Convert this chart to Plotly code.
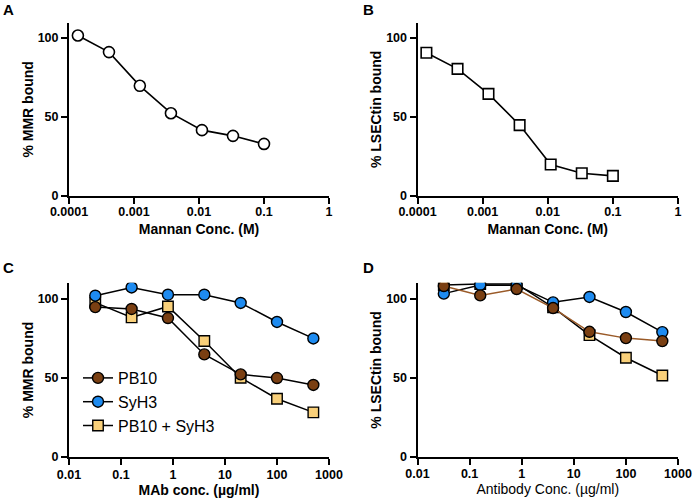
import plotly.graph_objects as go

# ---------------- data ----------------
mannan_conc = [0.000137, 0.000412, 0.00123, 0.0037, 0.0111, 0.0333, 0.1]
mmr_bound_A = [101.4, 90.9, 69.6, 52.3, 41.6, 38.0, 32.9]
lsectin_bound_B = [90.5, 80.3, 64.5, 44.8, 19.9, 14.4, 12.7]

ab_conc = [0.032, 0.16, 0.8, 4, 20, 100, 500]
C_pb10 = [94.7, 93.5, 87.8, 64.8, 52.2, 49.9, 45.5]
C_syh3 = [101.9, 107.1, 102.5, 102.5, 97.3, 85.3, 74.9]
C_combo = [97.5, 88.2, 95.1, 73.3, 50.1, 36.8, 28.2]

D_pb10 = [108.0, 102.1, 106.1, 94.1, 79.1, 75.1, 73.2]
D_syh3 = [103.2, 108.7, 108.5, 97.7, 101.1, 91.6, 78.9]
D_combo = [108.7, 109.3, 109.3, 94.5, 77.0, 62.7, 51.5]

mannan_ticks = [0.0001, 0.001, 0.01, 0.1, 1]
mannan_ticktext = ["0.0001", "0.001", "0.01", "0.1", "1"]
ab_ticks = [0.01, 0.1, 1, 10, 100, 1000]
ab_ticktext = ["0.01", "0.1", "1", "10", "100", "1000"]
y_ticks = [0, 50, 100]

BROWN = "#7a3f12"
BROWN_LINE = "#9a5a28"
BLUE = "#1e8bf0"
YELLOW = "#f9d07a"
FONT = "Liberation Sans"

W, H = 693, 501

fig = go.Figure()

# ---- panel A ----
fig.add_trace(go.Scatter(x=mannan_conc, y=mmr_bound_A, mode="lines+markers",
                         xaxis="x", yaxis="y", showlegend=False,
                         line=dict(color="black", width=1.6),
                         marker=dict(symbol="circle", size=11, color="white",
                                     line=dict(color="black", width=1.6))))
# ---- panel B ----
fig.add_trace(go.Scatter(x=mannan_conc, y=lsectin_bound_B, mode="lines+markers",
                         xaxis="x2", yaxis="y2", showlegend=False,
                         line=dict(color="black", width=1.6),
                         marker=dict(symbol="square", size=10.5, color="white",
                                     line=dict(color="black", width=1.6))))
# ---- panel C ----
fig.add_trace(go.Scatter(x=ab_conc, y=C_combo, mode="lines+markers", name="PB10 + SyH3",
                         xaxis="x3", yaxis="y3", legendrank=3,
                         line=dict(color="black", width=1.5),
                         marker=dict(symbol="square", size=10.5, color=YELLOW,
                                     line=dict(color="black", width=1.4))))
fig.add_trace(go.Scatter(x=ab_conc, y=C_pb10, mode="lines+markers", name="PB10",
                         xaxis="x3", yaxis="y3", legendrank=1,
                         line=dict(color="black", width=1.5),
                         marker=dict(symbol="circle", size=11, color=BROWN,
                                     line=dict(color="black", width=1.4))))
fig.add_trace(go.Scatter(x=ab_conc, y=C_syh3, mode="lines+markers", name="SyH3",
                         xaxis="x3", yaxis="y3", legendrank=2,
                         line=dict(color="black", width=1.5),
                         marker=dict(symbol="circle", size=11, color=BLUE,
                                     line=dict(color="black", width=1.4))))
# ---- panel D ----
fig.add_trace(go.Scatter(x=ab_conc, y=D_combo, mode="lines+markers", showlegend=False,
                         xaxis="x4", yaxis="y4",
                         line=dict(color="black", width=1.5),
                         marker=dict(symbol="square", size=10.5, color=YELLOW,
                                     line=dict(color="black", width=1.4))))
fig.add_trace(go.Scatter(x=ab_conc, y=D_syh3, mode="lines+markers", showlegend=False,
                         xaxis="x4", yaxis="y4",
                         line=dict(color="black", width=1.5),
                         marker=dict(symbol="circle", size=11, color=BLUE,
                                     line=dict(color="black", width=1.4))))
fig.add_trace(go.Scatter(x=ab_conc, y=D_pb10, mode="lines+markers", showlegend=False,
                         xaxis="x4", yaxis="y4",
                         line=dict(color=BROWN_LINE, width=1.5),
                         marker=dict(symbol="circle", size=11, color=BROWN,
                                     line=dict(color="black", width=1.4))))


def xax(domain, rng, tv, tt, title, anchor, bold=True, lab_off=0, tstand=4):
    return dict(domain=domain, type="log", range=rng, anchor=anchor, automargin=False,
                tickvals=tv, ticktext=tt, ticks="outside", ticklen=6, tickwidth=2,
                ticklabelstandoff=lab_off,
                showline=True, linewidth=2, linecolor="black", showgrid=False,
                zeroline=False, tickcolor="black",
                tickfont=dict(family=FONT, size=12.5, color="black", weight="bold"),
                title=dict(text=title, standoff=tstand,
                           font=dict(family=FONT, size=14, color="black",
                                     weight="bold" if bold else "normal")))


def yax(domain, rng, title, anchor):
    return dict(domain=domain, range=rng, anchor=anchor, automargin=False,
                tickvals=y_ticks, ticks="outside", ticklen=6, tickwidth=2,
                showline=True, linewidth=2, linecolor="black", showgrid=False,
                zeroline=False, tickcolor="black",
                tickfont=dict(family=FONT, size=12.5, color="black", weight="bold"),
                title=dict(text=title, standoff=1,
                           font=dict(family=FONT, size=14, color="black", weight="bold")))


top_bottom = (H - 196) / H
top_dom = [top_bottom, top_bottom + 109.5 * 1.583 / H]
bot_bottom = (H - 457) / H
bot_dom = [bot_bottom, bot_bottom + 110 * 1.583 / H]
left_dom = [69 / W, 329 / W]
right_dom = [417.5 / W, 678 / W]

fig.update_layout(
    width=W, height=H,
    margin=dict(l=0, r=0, t=0, b=0, autoexpand=False),
    paper_bgcolor="white", plot_bgcolor="white",
    xaxis=xax(left_dom, [-4, 0], mannan_ticks, mannan_ticktext, "Mannan Conc. (M)", "y",
              lab_off=-3, tstand=6),
    yaxis=yax(top_dom, [0, 109.5], "% MMR bound", "x"),
    xaxis2=xax(right_dom, [-4, 0], mannan_ticks, mannan_ticktext, "Mannan Conc. (M)", "y2",
               lab_off=-3, tstand=6),
    yaxis2=yax(top_dom, [0, 109.5], "% LSECtin bound", "x2"),
    xaxis3=xax(left_dom, [-2, 3], ab_ticks, ab_ticktext, "MAb conc. (µg/ml)", "y3",
               lab_off=-1, tstand=3),
    yaxis3=yax(bot_dom, [0, 110], "% MMR bound", "x3"),
    xaxis4=xax(right_dom, [-2, 3], ab_ticks, ab_ticktext, "Antibody Conc. (µg/ml)", "y4",
               bold=False, lab_off=-2, tstand=3),
    yaxis4=yax(bot_dom, [0, 110], "% LSECtin bound", "x4"),
    legend=dict(x=78 / W, y=(H - 361) / H, xanchor="left", yanchor="top",
                bgcolor="rgba(0,0,0,0)", itemwidth=30, tracegroupgap=3,
                font=dict(family=FONT, size=16, color="black")),
    showlegend=True,
)

for letter, px, py in [("A", 8, 9), ("B", 368, 9), ("C", 8, 268), ("D", 368, 268)]:
    fig.add_annotation(text=letter, x=px / W, y=(H - py) / H, xref="paper", yref="paper",
                       showarrow=False, xanchor="center", yanchor="middle",
                       font=dict(family=FONT, size=15, color="black", weight="bold"))

fig.write_html("out.html", config={"displayModeBar": False},
               post_script="document.body.style.margin='0';document.body.style.overflow='hidden';")
